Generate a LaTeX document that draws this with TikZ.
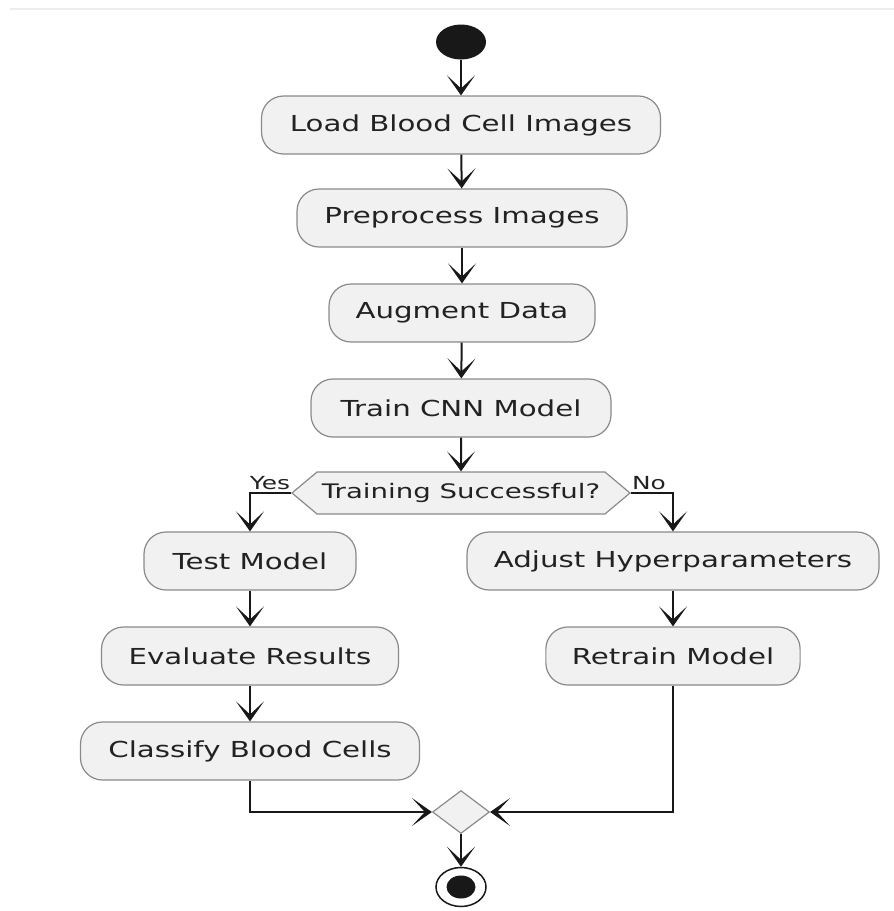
\documentclass[tikz,border=0pt]{standalone}
\usepackage{fontspec}
\setmainfont[FakeStretch=1.33]{DejaVu Sans}
\newfontfamily\decfont[FakeStretch=1.38]{DejaVu Sans}
\usetikzlibrary{arrows.meta,shapes.geometric,shapes.symbols}
\definecolor{boxfill}{HTML}{F1F1F1}
\definecolor{boxline}{HTML}{8A8A8A}
\definecolor{ink}{HTML}{222222}
\definecolor{wire}{HTML}{181818}
\tikzset{
  act/.style={draw=boxline, line width=1.2pt, fill=boxfill, rounded corners=22pt,
    minimum height=58pt, inner xsep=26pt, text=ink, font=\fontsize{22}{26}\selectfont},
  flow/.style={draw=wire, line width=2pt,
    -{Stealth[length=20pt,width=28pt,inset=13pt]}},
  lbl/.style={text=ink, font=\decfont\fontsize{18}{20}\selectfont, inner sep=0pt},
}
\begin{document}
\begin{tikzpicture}[x=1pt,y=-1pt]
\useasboundingbox (0,0) rectangle (894,911);
\draw[color=black!7, line width=2.5pt] (10,9) -- (894,9);
% start
\node[ellipse, fill=wire, minimum width=50pt, minimum height=35pt, inner sep=0pt] (start) at (461,42) {};
% activities
\node[act, minimum width=399pt] (load) at (461,125) {Load Blood Cell Images};
\node[act, minimum width=330pt] (prep) at (462,218) {Preprocess Images};
\node[act, minimum width=266pt] (aug) at (462,313) {Augment Data};
\node[act, minimum width=300pt] (train) at (461,408) {Train CNN Model};
% decision
\node[signal, signal to=west and east, signal pointer angle=80,
      draw=boxline, line width=1.2pt, fill=boxfill, inner sep=0pt,
      minimum width=338pt, minimum height=42pt, text=ink,
      font=\decfont\fontsize{20}{22}\selectfont] (dec) at (461,493) {Training Successful?};
\node[lbl] (yes) at (270,483) {Yes};
\node[lbl] (no) at (649,483) {No};
% branches
\node[act, minimum width=212pt] (test) at (250,561) {Test Model};
\node[act, minimum width=297pt] (eval) at (250,656) {Evaluate Results};
\node[act, minimum width=339pt] (class) at (250,751) {Classify Blood Cells};
\node[act, minimum width=412pt] (adj) at (673,561) {Adjust Hyperparameters};
\node[act, minimum width=254pt] (retr) at (673,656) {Retrain Model};
% merge
\node[diamond, draw=boxline, line width=1.2pt, fill=boxfill, aspect=1.33,
      minimum width=57pt, minimum height=43pt, inner sep=0pt] (merge) at (461,812) {};
% end
\node[ellipse, draw=wire, line width=1.5pt, fill=white, minimum width=50pt, minimum height=39pt, inner sep=0pt] (end) at (461,887) {};
\node[ellipse, fill=wire, minimum width=29pt, minimum height=23pt, inner sep=0pt] (endin) at (461,887) {};
% connectors
\draw[flow] (start) -- (load);
\draw[flow] (load) -- (prep);
\draw[flow] (prep) -- (aug);
\draw[flow] (aug) -- (train);
\draw[flow] (train) -- (dec);
\draw[flow] (dec.west) -| (test.north);
\draw[flow] (dec.east) -| (adj.north);
\draw[flow] (test) -- (eval);
\draw[flow] (eval) -- (class);
\draw[flow] (adj) -- (retr);
\draw[flow] (class.south) |- (merge.west);
\draw[flow] (retr.south) |- (merge.east);
\draw[flow] (merge) -- (end);
\end{tikzpicture}
\end{document}
